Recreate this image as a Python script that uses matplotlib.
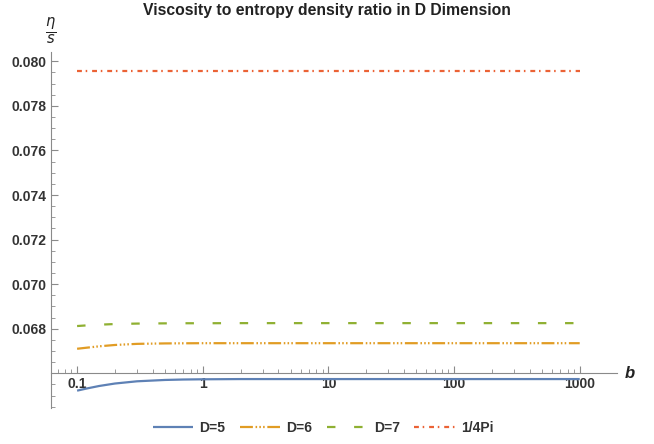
import matplotlib
matplotlib.use("Agg")
import matplotlib.pyplot as plt
from matplotlib.ticker import FixedLocator, LogLocator, NullFormatter, FuncFormatter
import numpy as np

plt.rcParams['font.family'] = ['Liberation Sans', 'DejaVu Sans']

b = [0.1, 0.12, 0.15, 0.2, 0.3, 0.5, 0.7, 1, 2, 10, 100, 1000]
d5 = [0.06522, 0.06532, 0.06543, 0.06554, 0.06564, 0.06570, 0.06572, 0.06573, 0.06574, 0.06574, 0.06574, 0.06574]
d6 = [0.06710, 0.06715, 0.06721, 0.06727, 0.06732, 0.06734, 0.067345, 0.06735, 0.06735, 0.06735, 0.06735, 0.06735]
d7 = [0.06812, 0.06815, 0.06818, 0.06821, 0.06823, 0.06824, 0.068245, 0.068245, 0.06825, 0.06825, 0.06825, 0.06825]
quarter_pi = 1 / (4 * np.pi)
b_ref = [0.1, 1000]
ref = [quarter_pi, quarter_pi]

labels = ["D=5", "D=6", "D=7", "1/4Pi"]
colors = ["#5E81B5", "#E19C24", "#8FB032", "#EB6235"]
yticks = [0.068, 0.070, 0.072, 0.074, 0.076, 0.078, 0.080]
xticks = [0.1, 1, 10, 100, 1000]
xticklabels = ["0.1", "1", "10", "100", "1000"]

fig = plt.figure(figsize=(6.54, 4.44), dpi=100)
ax = fig.add_axes([0.078, 0.081, 0.865, 0.802])

lw = 1.6
ax.plot(b, d5, color=colors[0], lw=lw, label=labels[0], solid_capstyle='butt')
ax.plot(b, d6, color=colors[1], lw=lw, label=labels[1],
        linestyle=(0, (5.8, 1.2, 0.7, 1.0, 0.7, 1.0, 0.7, 1.2)), dash_capstyle='butt')
ax.plot(b, d7, color=colors[2], lw=lw, label=labels[2],
        linestyle=(0, (3.8, 8.4)), dash_capstyle='butt')
ax.plot(b_ref, ref, color=colors[3], lw=lw, label=labels[3],
        linestyle=(0, (2.2, 1.7, 0.7, 2.2)), dash_capstyle='butt')

ax.set_xscale('log')
ax.set_xlim(0.062, 1970)
ax.set_ylim(0.06444, 0.08042)

axis_col = '#8a8a8a'
for s in ['top', 'right']:
    ax.spines[s].set_visible(False)
ax.spines['bottom'].set_position(('data', 0.066))
ax.spines['bottom'].set_color(axis_col)
ax.spines['left'].set_color(axis_col)

ax.xaxis.set_major_locator(FixedLocator(xticks))
ax.set_xticklabels(xticklabels)
ax.xaxis.set_minor_locator(LogLocator(base=10, subs=np.arange(2, 10)))
ax.xaxis.set_minor_formatter(NullFormatter())
ax.yaxis.set_major_locator(FixedLocator(yticks))
ax.yaxis.set_major_formatter(FuncFormatter(lambda v, p: f"{v:.3f}"))
ax.yaxis.set_minor_locator(FixedLocator(np.arange(0.0645, 0.0806, 0.0005)))

ax.tick_params(axis='both', which='major', direction='in', length=5, width=0.8,
               color=axis_col, labelsize=10, labelcolor='#333333', pad=3)
ax.tick_params(axis='both', which='minor', direction='in', length=3, width=0.6,
               color=axis_col)
for t in ax.get_xticklabels() + ax.get_yticklabels():
    t.set_fontweight('bold')

ax.text(0.0, 1.015, r"$\frac{\eta}{s}$", transform=ax.transAxes, ha='center', va='bottom',
        fontsize=15, color='#222222')
ax.annotate("b", xy=(1.0, 0.066), xycoords=ax.get_yaxis_transform(), xytext=(6, 0),
            textcoords='offset points', ha='left', va='center',
            fontsize=12, fontweight='bold', fontstyle='italic', color='#222222')
fig.text(0.5, 0.977, "Viscosity to entropy density ratio in D Dimension", ha='center', va='center',
         fontsize=11.3, fontweight='bold', color='#222222')

leg = fig.legend(loc='center', bbox_to_anchor=(0.494, 0.036), ncol=4, frameon=False,
                 handlelength=2.9, handletextpad=0.45, columnspacing=1.05, fontsize=10)
for t in leg.get_texts():
    t.set_fontweight('bold')
    t.set_color('#333333')

fig.savefig("out.png", dpi=100)
